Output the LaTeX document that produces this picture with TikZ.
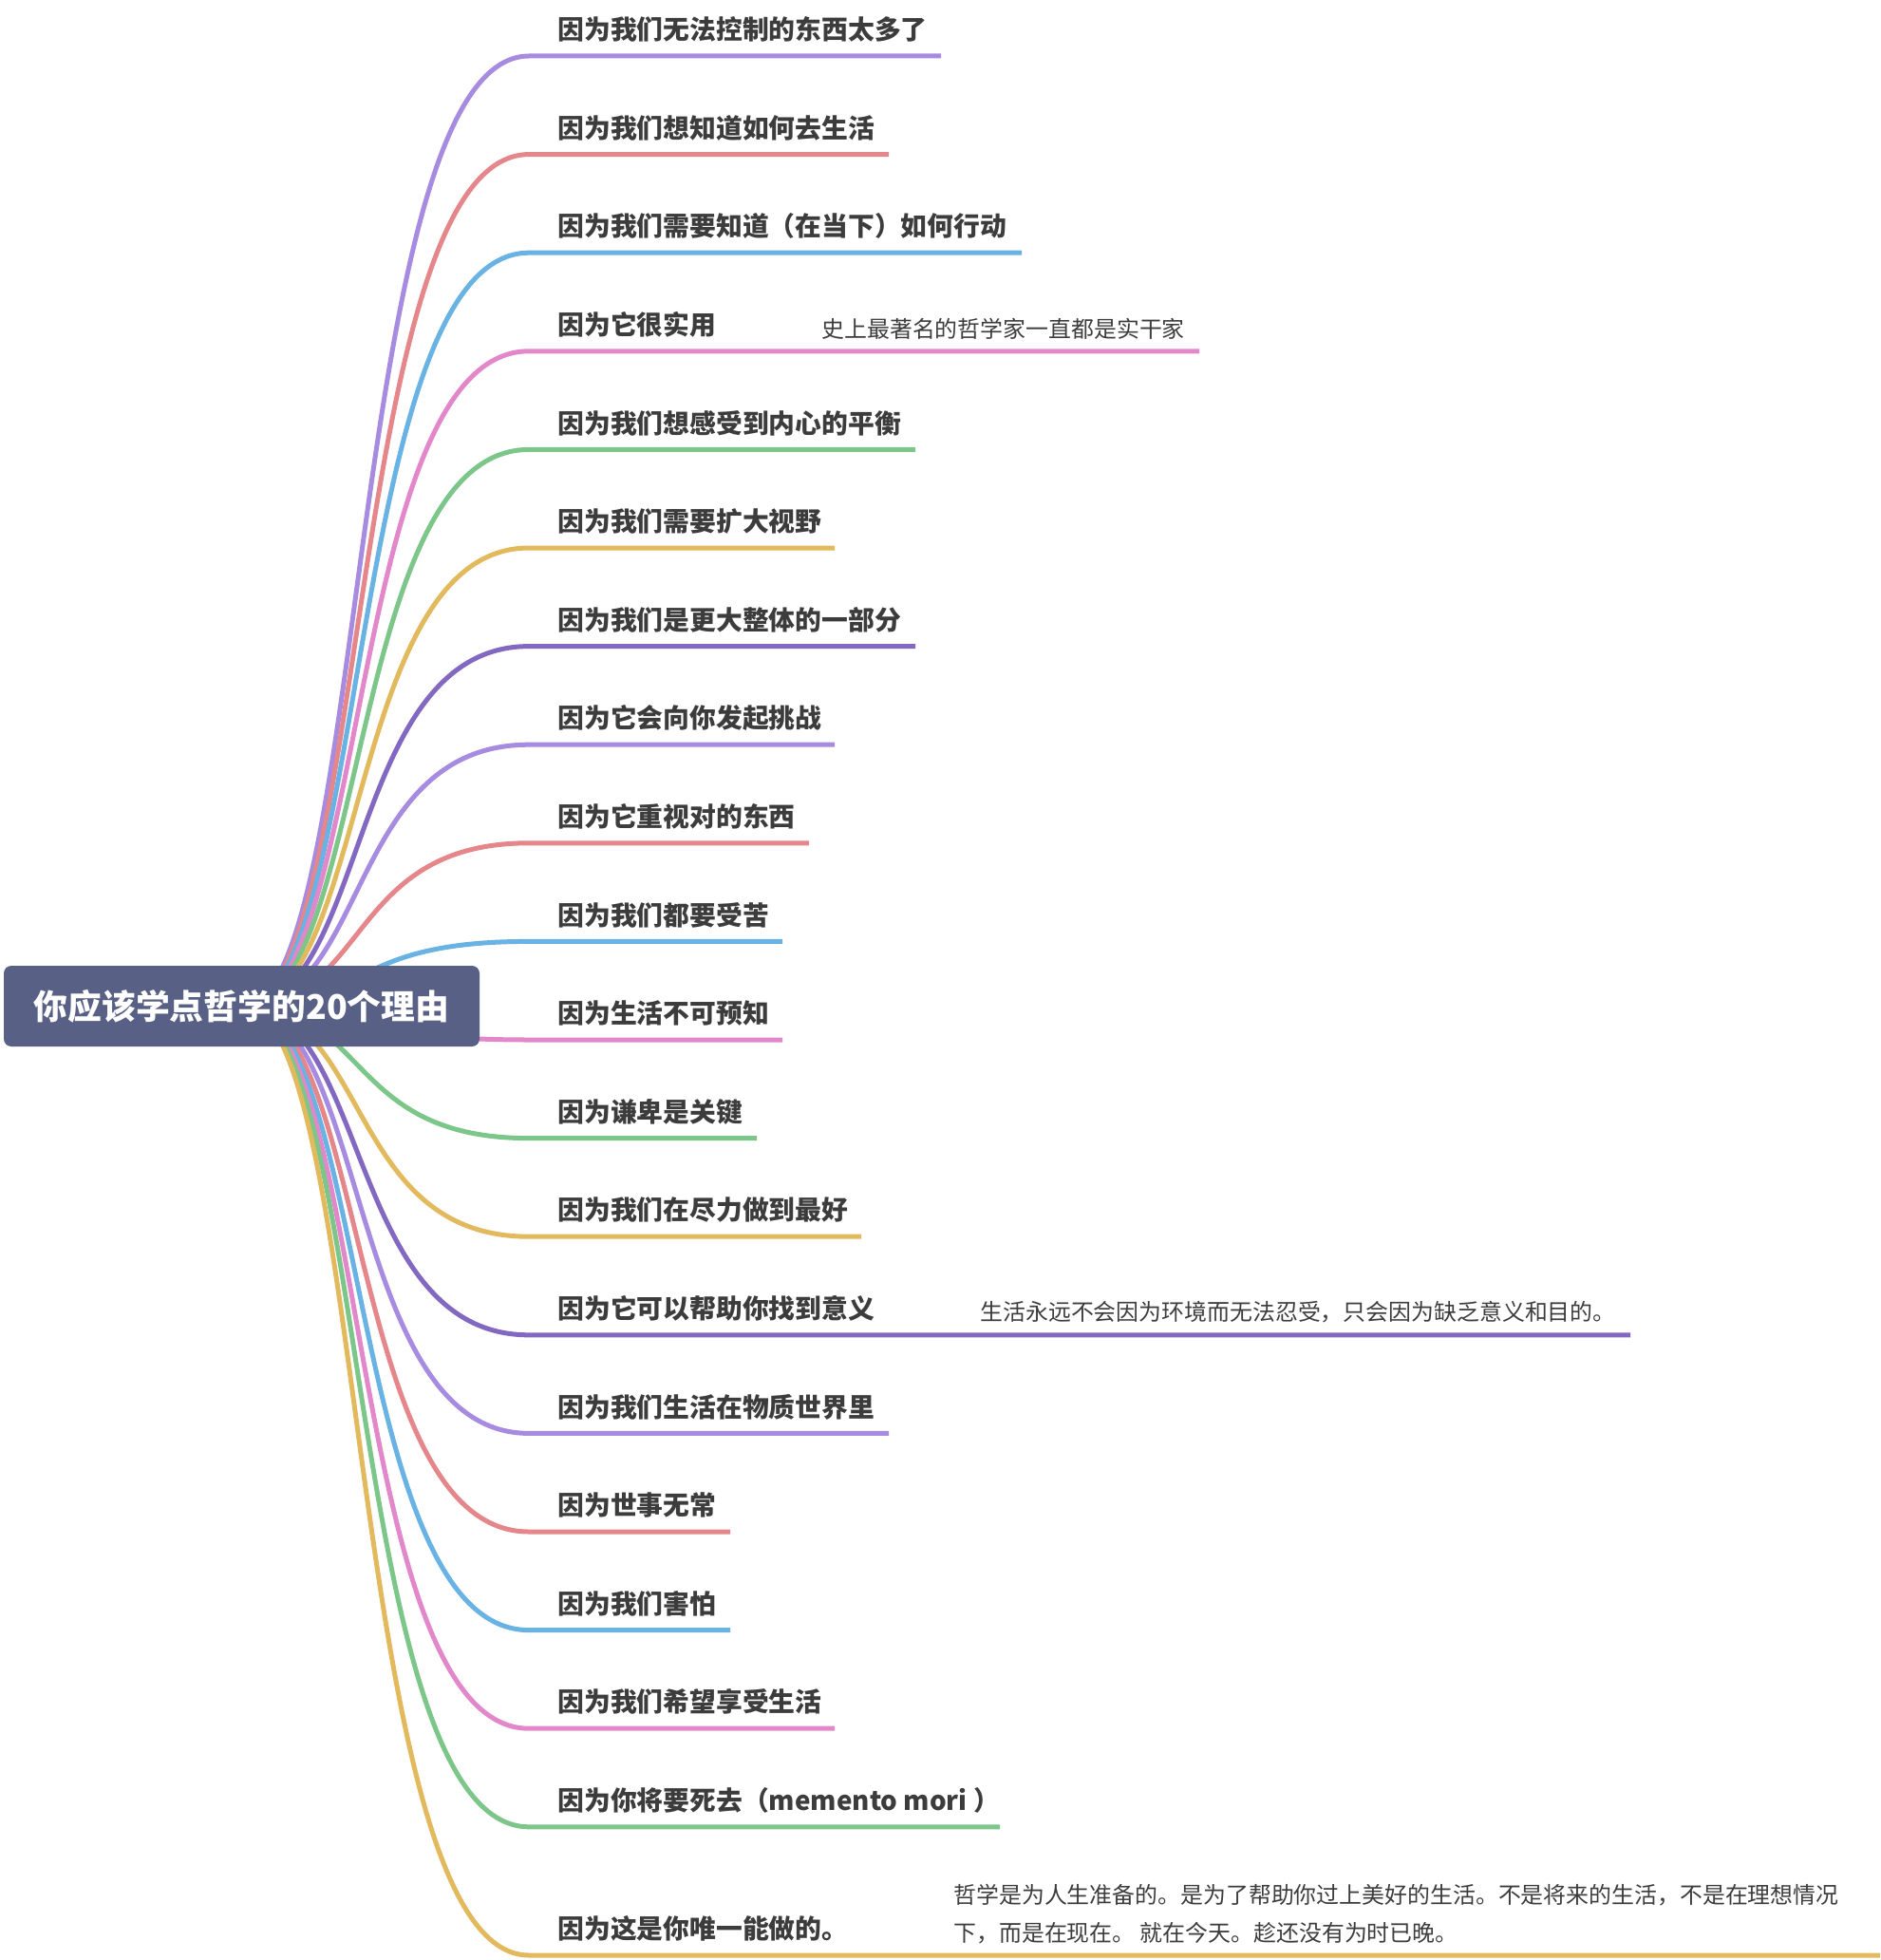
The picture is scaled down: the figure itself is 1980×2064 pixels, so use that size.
\documentclass[tikz,border=0pt]{standalone}
\usepackage{fontspec}
\newfontfamily\cjk{Noto Sans CJK SC}
\usetikzlibrary{backgrounds}
\definecolor{cPu}{HTML}{A68BE0}
\definecolor{cRe}{HTML}{E5878A}
\definecolor{cBl}{HTML}{68B2E4}
\definecolor{cPi}{HTML}{E287C9}
\definecolor{cGr}{HTML}{7CC689}
\definecolor{cYe}{HTML}{E2B95C}
\definecolor{cDp}{HTML}{8268C0}
\definecolor{txt}{HTML}{3C3C3C}
\definecolor{rootc}{HTML}{596086}
\begin{document}
\begin{tikzpicture}[x=0.5pt,y=-0.5pt,
  br/.style={line width=2.5pt, draw=#1},
  lbl/.style={anchor=west, font=\cjk\bfseries\fontsize{13.9}{16}\selectfont, text=txt, inner sep=0pt},
  note/.style={anchor=west, font=\cjk\fontsize{11.95}{19.75}\selectfont, text=txt, inner sep=0pt},
  rootbox/.style={fill=rootc, rounded corners=4pt, minimum width=250.5pt, minimum height=42.5pt,
    inner sep=0pt, text=white, font=\cjk\bfseries\fontsize{17.9}{20}\selectfont}]
\useasboundingbox (0,0) rectangle (1980,2064);
\node[rootbox] (root) at (254.5,1059.5) {你应该学点哲学的20个理由};
\coordinate (o) at (254.5,1059.5);
\foreach \i/\yy/\ex/\c/\t in {
 1/59/991/cPu/{因为我们无法控制的东西太多了},
 2/162.6/936/cRe/{因为我们想知道如何去生活},
 3/266.2/1076/cBl/{因为我们需要知道（在当下）如何行动},
 4/369.8/1263/cPi/{因为它很实用},
 5/473.4/964/cGr/{因为我们想感受到内心的平衡},
 6/577/879/cYe/{因为我们需要扩大视野},
 7/680.6/964/cDp/{因为我们是更大整体的一部分},
 8/784.2/879/cPu/{因为它会向你发起挑战},
 9/887.8/852/cRe/{因为它重视对的东西},
 10/991.4/824/cBl/{因为我们都要受苦},
 11/1095/824/cPi/{因为生活不可预知},
 12/1198.6/797/cGr/{因为谦卑是关键},
 13/1302.2/907/cYe/{因为我们在尽力做到最好},
 14/1405.8/1717/cDp/{因为它可以帮助你找到意义},
 15/1509.4/936/cPu/{因为我们生活在物质世界里},
 16/1613/769/cRe/{因为世事无常},
 17/1716.6/769/cBl/{因为我们害怕},
 18/1820.2/879/cPi/{因为我们希望享受生活},
 19/1923.8/1053/cGr/{因为你将要死去（memento mori ）},
 20/2059/1980/cYe/{因为这是你唯一能做的。}} {
  \coordinate (b\i) at (557,\yy);
  \coordinate (e\i) at (\ex,\yy);
  \node[lbl] (t\i) at (587,{\yy-28}) {\t};
  \begin{scope}[on background layer]
    \draw[br=\c] (o) .. controls +(135,0) and +(-193,0) .. (b\i) -- (e\i);
  \end{scope}
}
\node[note] (n4) at (865,346) {史上最著名的哲学家一直都是实干家};
\node[note] (n14) at (1032,1382) {生活永远不会因为环境而无法忍受，只会因为缺乏意义和目的。};
\node[note, align=left] (n20) at (1004,2015.5) {哲学是为人生准备的。是为了帮助你过上美好的生活。不是将来的生活，不是在理想情况\\下，而是在现在。 就在今天。趁还没有为时已晚。};
\end{tikzpicture}
\end{document}
